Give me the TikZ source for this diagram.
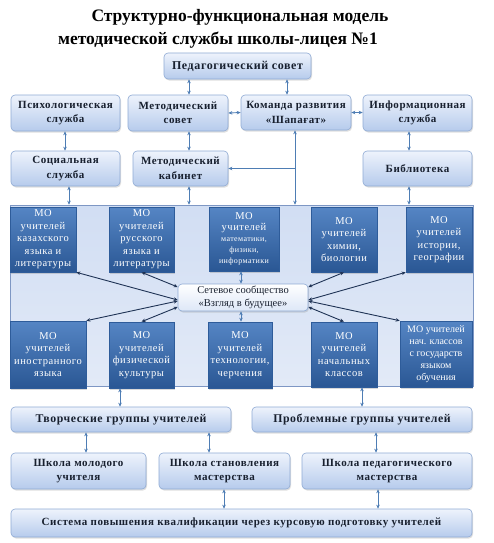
\documentclass[tikz,border=0pt]{standalone}
\usepackage{fontspec}
\setmainfont{Liberation Serif}
\newfontfamily\boxfont[LetterSpace=5]{Liberation Serif}
\usetikzlibrary{arrows.meta,shadows}
\definecolor{ltop}{HTML}{EEF3FC}
\definecolor{lbot}{HTML}{B6CBEC}
\definecolor{lbord}{HTML}{8FAAD4}
\definecolor{ltext}{HTML}{18202F}
\definecolor{motop}{HTML}{5585C4}
\definecolor{mobot}{HTML}{2A5794}
\definecolor{mobord}{HTML}{2E5C9A}
\definecolor{cline}{HTML}{4E7DB4}
\definecolor{nline}{HTML}{1F3355}
\definecolor{pfill}{HTML}{D6E1F4}
\definecolor{pbord}{HTML}{7E97C4}
\newcommand\mkbox[7]{\node[#1, minimum width={(#5-#3)*1pt}, minimum height={(#6-#4)*1pt}] (#2) at ({(#3+#5)/2},{(#4+#6)/2}) {#7};}
\begin{document}
\begin{tikzpicture}[x=1pt,y=-1pt,
  lbox/.style={draw=lbord, line width=0.6pt, rounded corners=4pt, top color=ltop, bottom color=lbot,
    text=ltext, align=center, inner sep=1pt, font=\boxfont\bfseries\fontsize{11}{14.5}\selectfont,
    drop shadow={opacity=0.25, shadow xshift=1pt, shadow yshift=-1.5pt}},
  mobox/.style={draw=mobord, line width=0.6pt, top color=motop, bottom color=mobot,
    text=white, align=center, inner sep=1pt, font=\boxfont\fontsize{10.5}{12.5}\selectfont,
    drop shadow={opacity=0.3, shadow xshift=1.2pt, shadow yshift=-1.5pt}},
  netbox/.style={draw=lbord, line width=0.6pt, rounded corners=4pt, top color=white, bottom color=ltop!70!lbot,
    text=ltext, align=center, inner sep=1pt, font=\fontsize{10.5}{13.5}\selectfont,
    drop shadow={opacity=0.25, shadow xshift=1pt, shadow yshift=-1.5pt}},
  panelbox/.style={draw=pbord, line width=0.5pt, top color=pfill!85!lbot, bottom color=pfill!70!white, inner sep=0pt},
  titlefont/.style={font=\bfseries\fontsize{17.5}{20}\selectfont, text=black},
  conn/.style={draw=cline, line width=0.9pt, {Stealth[length=4pt,width=3.5pt]}-{Stealth[length=4pt,width=3.5pt]}},
  oneway/.style={draw=cline, line width=0.9pt, -{Stealth[length=4pt,width=3.5pt]}},
  nconn/.style={draw=nline, line width=0.9pt, {Stealth[length=4pt,width=3.5pt]}-{Stealth[length=4pt,width=3.5pt]}}
]
\useasboundingbox (0,0) rectangle (494,543);

\node[titlefont] (t1) at (240,17) {Структурно-функциональная модель};
\node[titlefont] (t2) at (218,40) {методической службы школы-лицея №1};

\mkbox{lbox, font=\boxfont\bfseries\fontsize{12}{14.5}\selectfont}{ped}{164}{53}{311}{79}{Педагогический совет}
\mkbox{lbox}{psy}{11}{95}{120}{131}{Психологическая\\служба}
\mkbox{lbox}{msov}{128}{95}{228}{131}{Методический\\совет}
\mkbox{lbox}{kom}{241}{95}{351}{130}{Команда развития\\«Шапағат»}
\mkbox{lbox}{info}{363}{95}{472}{131}{Информационная\\служба}
\mkbox{lbox}{soc}{11}{151}{120}{186}{Социальная\\служба}
\mkbox{lbox}{mkab}{133}{151}{228}{186}{Методический\\кабинет}
\mkbox{lbox}{lib}{363}{151}{472}{186}{Библиотека}

\mkbox{panelbox}{panel}{10}{205}{473}{386}{}

\mkbox{mobox}{mokaz}{10}{207}{76}{272}{МО\\учителей\\казахского\\языка и\\литературы}
\mkbox{mobox}{morus}{109}{207}{174}{272}{МО\\учителей\\русского\\языка и\\литературы}
\mkbox{mobox, font=\boxfont\fontsize{8}{11}\selectfont}{momath}{209}{207}{279}{271}{\fontsize{10.5}{12}\selectfont МО\\\fontsize{10.5}{12}\selectfont учителей\\математики,\\физики,\\информатики}
\mkbox{mobox}{mochem}{311}{207}{377}{272}{МО\\учителей\\химии,\\биологии}
\mkbox{mobox}{mohist}{406}{207}{472}{272}{МО\\учителей\\истории,\\географии}
\mkbox{mobox}{mofor}{10}{321}{86}{388}{МО\\учителей\\иностранного\\языка}
\mkbox{mobox}{mophys}{109}{322}{174}{388}{МО\\учителей\\физической\\культуры}
\mkbox{mobox}{motech}{208}{322}{272}{388}{МО\\учителей\\технологии,\\черчения}
\mkbox{mobox}{moprim}{311}{322}{377}{387}{МО\\учителей\\начальных\\классов}
\mkbox{mobox, font=\fontsize{10}{12}\selectfont}{mogos}{400}{321}{472}{387}{МО учителей\\нач. классов\\с государств\\языком\\обучения}

\mkbox{netbox}{net}{178}{284}{308}{311}{Сетевое сообщество\\«Взгляд в будущее»}

\mkbox{lbox, font=\boxfont\bfseries\fontsize{11.8}{14.5}\selectfont}{tvor}{11}{407}{231}{432}{Творческие группы учителей}
\mkbox{lbox, font=\boxfont\bfseries\fontsize{11.8}{14.5}\selectfont}{prob}{252}{407}{472}{432}{Проблемные группы учителей}
\mkbox{lbox}{smol}{11}{453}{146}{489}{Школа молодого\\учителя}
\mkbox{lbox}{sstan}{159}{453}{290}{489}{Школа становления\\мастерства}
\mkbox{lbox}{sped}{302}{453}{472}{489}{Школа педагогического\\мастерства}
\mkbox{lbox}{sys}{11}{509}{472}{537}{Система повышения квалификации через курсовую подготовку учителей}

% upper connectors
\draw[conn] (ped.south -| 189,0) -- (msov.north -| 189,0);
\draw[conn] (ped.south -| 287,0) -- (kom.north -| 287,0);
\draw[conn] (msov.east) -- (kom.west);
\draw[conn] (kom.east) -- (kom.east -| info.west);
\draw[conn] (psy.south -| 65,0) -- (soc.north -| 65,0);
\draw[conn] (msov.south -| 189,0) -- (mkab.north -| 189,0);
\draw[conn] (info.south -| 409,0) -- (lib.north -| 409,0);
\draw[conn] (kom.south -| 295,0) -- (panel.north -| 295,0);
\draw[oneway] (mkab.east -| 295,0) -- (mkab.east);
\draw[conn] (soc.south -| 69,0) -- (panel.north -| 69,0);
\draw[conn] (mkab.south -| 189,0) -- (panel.north -| 189,0);
\draw[conn] (lib.south -| 409,0) -- (panel.north -| 409,0);

% network
\draw[conn] (momath.south -| 241,0) -- (net.north -| 241,0);
\draw[conn] (net.south -| 241,0) -- (motech.north -| 241,0);
\draw[nconn] (morus.south) -- (net.west |- 0,287);
\draw[nconn] (mokaz.south east) -- (net.west |- 0,300);
\draw[nconn] (mofor.north east) -- (net.west |- 0,301);
\draw[nconn] (mophys.north) -- (net.west |- 0,307);
\draw[nconn] (mochem.south) -- (net.east |- 0,287);
\draw[nconn] (mohist.south west) -- (net.east |- 0,300);
\draw[nconn] (mogos.north west) -- (net.east |- 0,301);
\draw[nconn] (moprim.north) -- (net.east |- 0,307);

% lower connectors
\draw[conn] (mophys.south -| 120,0) -- (tvor.north -| 120,0);
\draw[conn] (moprim.south -| 362,0) -- (prob.north -| 362,0);
\draw[conn] (tvor.south -| 86,0) -- (smol.north -| 86,0);
\draw[conn] (tvor.south -| 209,0) -- (sstan.north -| 209,0);
\draw[conn] (prob.south -| 376,0) -- (sped.north -| 376,0);
\draw[conn] (sstan.south -| 224,0) -- (sys.north -| 224,0);
\draw[conn] (sped.south -| 378,0) -- (sys.north -| 378,0);
\end{tikzpicture}
\end{document}
